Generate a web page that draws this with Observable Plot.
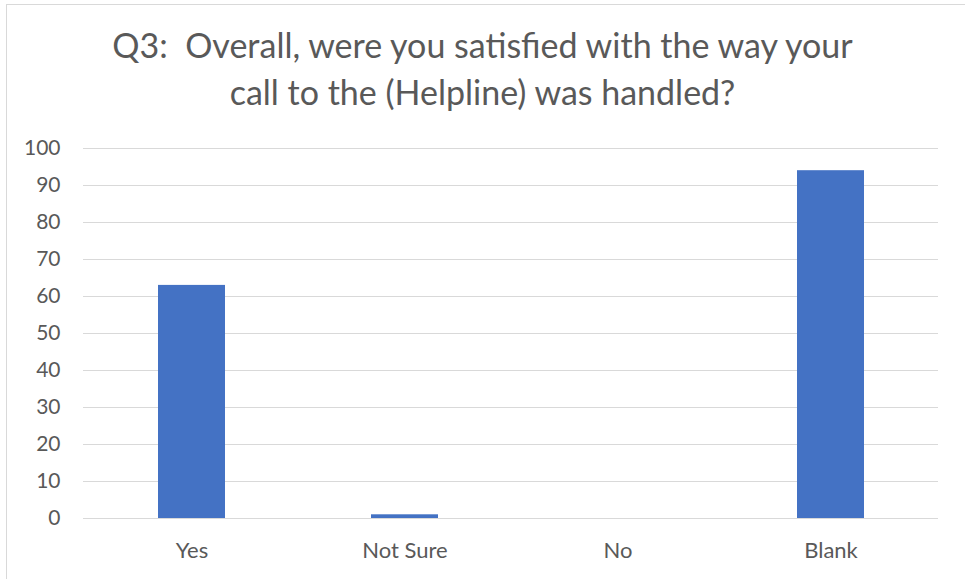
<!DOCTYPE html>
<html>
<head>
<meta charset="utf-8">
<script src="https://cdn.jsdelivr.net/npm/d3@7"></script>
<script src="https://cdn.jsdelivr.net/npm/@observablehq/plot@0.6"></script>
<style>
  html, body { margin: 0; padding: 0; overflow: hidden; background: #fff; width: 965px; height: 579px; }
  #frame { position: absolute; left: 6px; top: 4px; width: 1000px; height: 1000px; border: 1px solid #d9d9d9; box-sizing: border-box; }
  #title { position: absolute; left: 0; top: 21px; width: 965px; text-align: center; font-family: Lato, sans-serif; font-size: 34px; line-height: 47px; color: #595959; white-space: pre; }
  #chart { position: absolute; left: 0; top: 130px; }
</style>
</head>
<body>
<div id="frame"></div>
<div id="title">Q3:  Overall, were you satisfied with the way your
call to the (Helpline) was handled?</div>
<div id="chart"></div>
<script>
const categories = ["Yes", "Not Sure", "No", "Blank"];
const values = [63, 1, 0, 94];
const yTicks = [0, 10, 20, 30, 40, 50, 60, 70, 80, 90, 100];

const data = categories.map((c, i) => ({category: c, value: values[i]}));

const chart = Plot.plot({
  width: 965,
  height: 449,
  marginLeft: 83,
  marginRight: 27,
  marginTop: 18,
  marginBottom: 61,
  style: {fontFamily: "Lato, sans-serif", color: "#595959", background: "transparent"},
  x: {domain: categories, paddingInner: 0.687, paddingOuter: 0.3435, label: null},
  y: {domain: [0, 100], label: null},
  marks: [
    Plot.ruleY(yTicks, {stroke: "#d9d9d9", strokeWidth: 1.2}),
    Plot.barY(data, {x: "category", y: "value", fill: "#4472C4"}),
    Plot.axisY({ticks: yTicks, tickSize: 0, tickPadding: 23, fontSize: 21, label: null}),
    Plot.axisX({tickSize: 0, tickPadding: 24, fontSize: 22, label: null})
  ]
});
document.getElementById("chart").appendChild(chart);
</script>
</body>
</html>
